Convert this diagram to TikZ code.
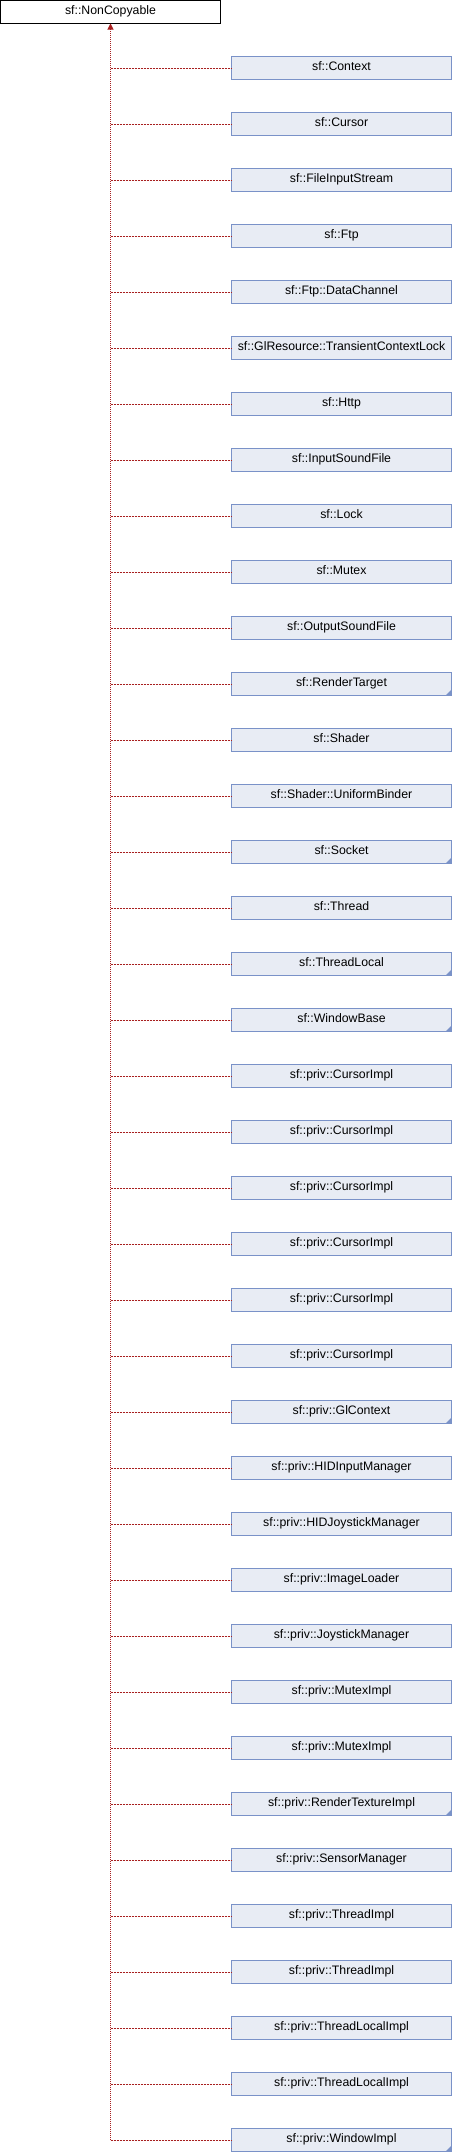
\documentclass[tikz,border=0pt]{standalone}
\usepackage{fontspec}
\setmainfont{Liberation Sans}
\usetikzlibrary{arrows.meta}
\definecolor{boxfill}{RGB}{232,236,244}
\definecolor{boxline}{RGB}{122,146,200}
\definecolor{inh}{RGB}{168,32,32}
\begin{document}
\begin{tikzpicture}[x=1pt,y=-1pt,
  basebox/.style={draw=black,fill=white,line width=1pt,minimum width=220pt,minimum height=23pt,inner sep=0pt,outer sep=0pt,text height=9pt,text depth=4.6pt,font=\fontsize{12.3}{14}\selectfont},
  childbox/.style={draw=boxline,fill=boxfill,line width=1pt,minimum width=220pt,minimum height=23pt,inner sep=0pt,outer sep=0pt,text height=9pt,text depth=4.6pt,font=\fontsize{12.3}{14}\selectfont},
  hline/.style={draw=inh,line width=1pt,dash pattern=on 2pt off 1pt},
  vline/.style={draw=inh,line width=1pt,dash pattern=on 1pt off 1pt,-{Triangle[length=6pt,width=6pt,fill=inh]}},
  corner/.style={fill=boxline}]
\useasboundingbox (0,0) rectangle (452,2152);
\node[basebox] (base) at (110.5,12) {sf::NonCopyable};
\foreach \nm [count=\i] in {
  sf::Context, sf::Cursor, sf::FileInputStream, sf::Ftp, sf::Ftp::DataChannel,
  sf::GlResource::TransientContextLock, sf::Http, sf::InputSoundFile, sf::Lock,
  sf::Mutex, sf::OutputSoundFile, sf::RenderTarget, sf::Shader,
  sf::Shader::UniformBinder, sf::Socket, sf::Thread, sf::ThreadLocal,
  sf::WindowBase, sf::priv::CursorImpl, sf::priv::CursorImpl, sf::priv::CursorImpl,
  sf::priv::CursorImpl, sf::priv::CursorImpl, sf::priv::CursorImpl,
  sf::priv::GlContext, sf::priv::HIDInputManager, sf::priv::HIDJoystickManager,
  sf::priv::ImageLoader, sf::priv::JoystickManager, sf::priv::MutexImpl,
  sf::priv::MutexImpl, sf::priv::RenderTextureImpl, sf::priv::SensorManager,
  sf::priv::ThreadImpl, sf::priv::ThreadImpl, sf::priv::ThreadLocalImpl,
  sf::priv::ThreadLocalImpl, sf::priv::WindowImpl} {
  \node[childbox] (c\i) at (341.5,{12+56*\i}) {\nm};
  \draw[hline] (base.south |- c\i.west) -- (c\i.west);
}
\foreach \i in {12,15,17,18,25,32,38}
  \fill[corner] (c\i.south east) -- ++(-6pt,0pt) -- ++(6pt,6pt) -- cycle;
\draw[vline] (base.south |- c38.west) -- (base.south);
\end{tikzpicture}
\end{document}
